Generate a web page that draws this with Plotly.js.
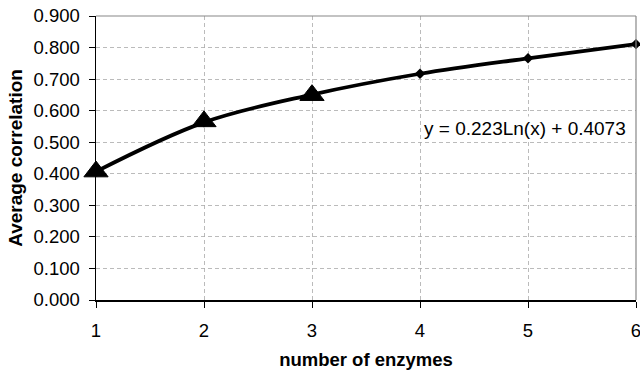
<!DOCTYPE html>
<html>
<head>
<meta charset="utf-8">
<script src="https://cdn.plot.ly/plotly-3.0.1.min.js"></script>
<style>html,body{margin:0;padding:0;background:#fff;}#chart{width:640px;height:373px;}</style>
</head>
<body>
<div id="chart"></div>
<script>
// Data
const enzymes = [1, 2, 3, 4, 5, 6];
const avgCorrelation = [0.407, 0.563, 0.651, 0.717, 0.766, 0.811];
const measuredX = [1, 2, 3];
const measuredY = [0.407, 0.566, 0.649];
const yTicks = [0, 0.1, 0.2, 0.3, 0.4, 0.5, 0.6, 0.7, 0.8, 0.9];
const xTicks = [1, 2, 3, 4, 5, 6];
const equationText = "y = 0.223Ln(x) + 0.4073";

const font = "Liberation Sans, Arial, sans-serif";

const traces = [
  {
    x: enzymes, y: avgCorrelation, type: "scatter", mode: "lines+markers",
    line: {color: "#000", width: 3.8, shape: "spline", smoothing: 1},
    marker: {symbol: "diamond", size: 8, color: "#000"},
    cliponaxis: false, hoverinfo: "skip"
  },
  {
    x: measuredX, y: measuredY, type: "scatter", mode: "markers",
    marker: {symbol: "triangle-up", size: 21, color: "#000", line: {color: "#000", width: 1}},
    cliponaxis: false, hoverinfo: "skip"
  }
];

const layout = {
  width: 640, height: 373,
  margin: {l: 96, r: 4, t: 16, b: 72.5, pad: 0},
  paper_bgcolor: "#fff", plot_bgcolor: "#fff",
  showlegend: false,
  font: {family: font, color: "#000", size: 18},
  xaxis: {
    range: [1, 6], tickvals: xTicks, ticktext: xTicks.map(String),
    showline: true, linecolor: "#000", linewidth: 1.5,
    ticks: "outside", ticklen: 6, tickcolor: "#000", tickwidth: 1,
    showgrid: true, gridcolor: "#aaa", griddash: "4px,3px", gridwidth: 0.8,
    zeroline: false, tickfont: {size: 18.5, family: font, color: "#000"},
    ticklabelstandoff: 7, ticklabeloverflow: "allow",
    title: {text: "<b>number of enzymes</b>", font: {size: 18.5, family: font, color: "#000"}, standoff: 13}
  },
  yaxis: {
    range: [0, 0.9], tickvals: yTicks, ticktext: yTicks.map(v => v.toFixed(3)),
    showline: true, linecolor: "#000", linewidth: 1.5,
    ticks: "outside", ticklen: 6, tickcolor: "#000", tickwidth: 1,
    showgrid: true, gridcolor: "#aaa", griddash: "4px,3px", gridwidth: 0.8,
    zeroline: false, tickfont: {size: 18.5, family: font, color: "#000"},
    ticklabelstandoff: 5,
    title: {text: "<b>Average correlation</b>", font: {size: 19, family: font, color: "#000"}, standoff: 6}
  },
  shapes: [
    {type: "line", xref: "paper", yref: "paper", x0: 0, x1: 1, y0: 1, y1: 1, line: {color: "#888", width: 1.2}},
    {type: "line", xref: "paper", yref: "paper", x0: 1, x1: 1, y0: 0, y1: 1, line: {color: "#888", width: 1.2}}
  ],
  annotations: [
    {x: 4.97, y: 0.543, xref: "x", yref: "y", text: equationText, showarrow: false,
     font: {size: 19, family: font, color: "#000"}, bgcolor: "#fff", xanchor: "center", yanchor: "middle"}
  ]
};

Plotly.newPlot("chart", traces, layout, {displayModeBar: false, staticPlot: true});
</script>
</body>
</html>
